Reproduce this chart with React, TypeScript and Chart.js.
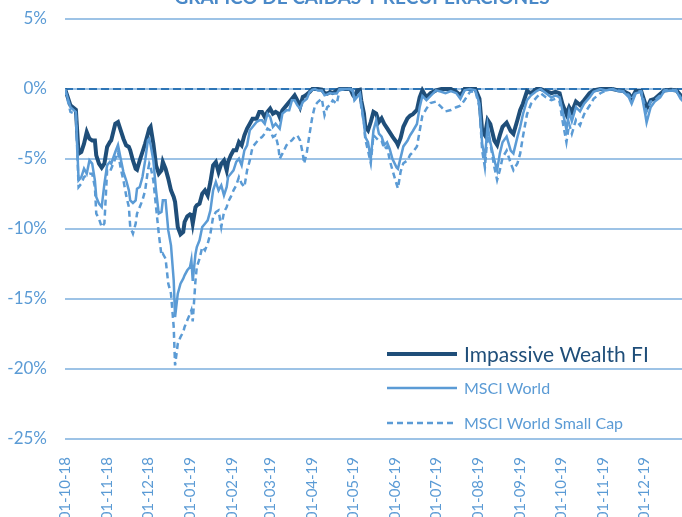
import { useEffect, useRef } from "react";
import { Chart, registerables } from "chart.js";

Chart.register(...registerables);

const chartTitle = "GRÁFICO DE CAÍDAS Y RECUPERACIONES";
const seriesNames = ["Impassive Wealth FI", "MSCI World", "MSCI World Small Cap"];
const axisStart = "2018-10-01";
const axisEnd = "2020-01-01";
const tickDates = [
  "2018-10-01", "2018-11-01", "2018-12-01", "2019-01-01", "2019-02-01",
  "2019-03-01", "2019-04-01", "2019-05-01", "2019-06-01", "2019-07-01",
  "2019-08-01", "2019-09-01", "2019-10-01", "2019-11-01", "2019-12-01",
];
const tickLabels = [
  "01-10-18", "01-11-18", "01-12-18", "01-01-19", "01-02-19",
  "01-03-19", "01-04-19", "01-05-19", "01-06-19", "01-07-19",
  "01-08-19", "01-09-19", "01-10-19", "01-11-19", "01-12-19",
];
const yMin = -25;
const yMax = 5;
const yStep = 5;

const dates = [
  // Oct 2018
  "2018-10-01", "2018-10-05", "2018-10-09", "2018-10-11", "2018-10-13", "2018-10-15", "2018-10-17", "2018-10-19",
  "2018-10-21", "2018-10-23", "2018-10-24", "2018-10-26", "2018-10-28", "2018-10-30",
  // Nov 2018
  "2018-11-01", "2018-11-03", "2018-11-04", "2018-11-07", "2018-11-09", "2018-11-11", "2018-11-13", "2018-11-15",
  "2018-11-17", "2018-11-18", "2018-11-20", "2018-11-22", "2018-11-23", "2018-11-25", "2018-11-27", "2018-11-29",
  // Dec 2018
  "2018-12-01", "2018-12-02", "2018-12-03", "2018-12-05", "2018-12-07", "2018-12-09", "2018-12-11", "2018-12-12",
  "2018-12-14", "2018-12-16", "2018-12-18", "2018-12-20", "2018-12-21", "2018-12-23", "2018-12-25", "2018-12-27",
  "2018-12-28", "2018-12-30",
  // Jan 2019
  "2019-01-01", "2019-01-02", "2019-01-03", "2019-01-05", "2019-01-06", "2019-01-08", "2019-01-10", "2019-01-12",
  "2019-01-14", "2019-01-16", "2019-01-18", "2019-01-20", "2019-01-22", "2019-01-24", "2019-01-26", "2019-01-28",
  "2019-01-29", "2019-01-31",
  // Feb 2019
  "2019-02-02", "2019-02-04", "2019-02-06", "2019-02-08", "2019-02-10", "2019-02-12", "2019-02-14", "2019-02-16",
  "2019-02-19", "2019-02-21", "2019-02-23", "2019-02-25", "2019-02-27",
  // Mar 2019
  "2019-03-01", "2019-03-03", "2019-03-05", "2019-03-07", "2019-03-08", "2019-03-10", "2019-03-13", "2019-03-15",
  "2019-03-17", "2019-03-19", "2019-03-21", "2019-03-23", "2019-03-25", "2019-03-26", "2019-03-28", "2019-03-30",
  // Apr 2019
  "2019-04-01", "2019-04-03", "2019-04-05", "2019-04-08", "2019-04-10", "2019-04-12", "2019-04-14", "2019-04-16",
  "2019-04-19", "2019-04-21", "2019-04-25", "2019-04-29",
  // May 2019
  "2019-05-01", "2019-05-02", "2019-05-04", "2019-05-06", "2019-05-07", "2019-05-09", "2019-05-10", "2019-05-12",
  "2019-05-14", "2019-05-16", "2019-05-18", "2019-05-20", "2019-05-22", "2019-05-24", "2019-05-26", "2019-05-28",
  "2019-05-30",
  // Jun 2019
  "2019-06-02", "2019-06-03", "2019-06-05", "2019-06-07", "2019-06-10", "2019-06-12", "2019-06-14", "2019-06-17",
  "2019-06-19", "2019-06-21", "2019-06-24", "2019-06-27",
  // Jul 2019
  "2019-07-01", "2019-07-05", "2019-07-08", "2019-07-12", "2019-07-16", "2019-07-19", "2019-07-22", "2019-07-26",
  "2019-07-30",
  // Aug 2019
  "2019-08-02", "2019-08-04", "2019-08-06", "2019-08-08", "2019-08-10", "2019-08-13", "2019-08-15", "2019-08-17",
  "2019-08-19", "2019-08-22", "2019-08-25", "2019-08-27", "2019-08-30",
  // Sep 2019
  "2019-09-01", "2019-09-03", "2019-09-06", "2019-09-09", "2019-09-13", "2019-09-16", "2019-09-20", "2019-09-24",
  "2019-09-27", "2019-09-30",
  // Oct 2019
  "2019-10-02", "2019-10-05", "2019-10-07", "2019-10-09", "2019-10-12", "2019-10-15", "2019-10-18", "2019-10-22",
  "2019-10-25", "2019-10-30",
  // Nov 2019
  "2019-11-03", "2019-11-08", "2019-11-12", "2019-11-16", "2019-11-20", "2019-11-22", "2019-11-25", "2019-11-29",
  // Dec 2019
  "2019-12-02", "2019-12-03", "2019-12-06", "2019-12-09", "2019-12-13", "2019-12-16", "2019-12-21", "2019-12-25",
  "2019-12-28", "2019-12-30",
];

const impassive = [
  // Oct 2018
  0, -1.17, -1.48, -4.62, -4.5, -3.9, -3.07, -3.55,
  -3.67, -3.67, -4.74, -5.33, -5.62, -5.33,
  // Nov 2018
  -4.14, -3.79, -3.67, -2.48, -2.36, -2.95, -3.55, -4.02,
  -4.14, -4.38, -5.1, -5.69, -5.76, -5.1, -4.5, -3.9,
  // Dec 2018
  -3.19, -2.83, -2.7, -3.9, -5.45, -6.05, -5.81, -5.21,
  -5.69, -6.4, -7.24, -7.71, -8.07, -9.86, -10.38, -10.21,
  -9.5, -9.1,
  // Jan 2019
  -8.95, -9.0, -9.6, -8.45, -8.31, -8.19, -7.48, -7.24,
  -7.6, -6.64, -5.45, -5.21, -5.93, -5.33, -5.1, -5.81,
  -5.21, -4.74,
  // Feb 2019
  -4.38, -4.38, -3.79, -4.02, -3.31, -2.83, -2.48, -2.12,
  -2.12, -1.64, -1.64, -2.0, -1.64,
  // Mar 2019
  -1.4, -1.76, -1.64, -1.76, -2.0, -1.52, -1.17, -0.93,
  -0.69, -0.45, -0.81, -1.29, -0.57, -0.52, -0.38, -0.21,
  // Apr 2019
  0, 0, 0, -0.05, -0.29, -0.33, -0.21, -0.29,
  -0.1, 0, 0, 0,
  // May 2019
  -0.45, -0.57, -0.1, -0.05, -0.81, -1.76, -2.71, -2.95,
  -2.36, -1.64, -1.76, -2.36, -2.1, -2.5, -2.8, -3.1,
  -3.4,
  // Jun 2019
  -3.8, -4.0, -3.5, -2.7, -2.1, -1.9, -1.8, -1.5,
  -0.6, -0.1, -0.6, -0.3,
  // Jul 2019
  -0.1, 0, 0, 0, -0.2, -0.45, 0, 0,
  0,
  // Aug 2019
  -0.7, -3.0, -3.3, -2.2, -2.5, -3.7, -4.0, -3.3,
  -2.7, -2.4, -3.0, -3.2, -2.2,
  // Sep 2019
  -1.5, -1.05, -0.15, -0.3, 0, 0, -0.15, -0.3,
  -0.2, -0.3,
  // Oct 2019
  -1.05, -1.8, -1.3, -1.65, -0.9, -1.15, -0.8, -0.3,
  -0.1, 0,
  // Nov 2019
  0, 0, -0.1, -0.15, -0.35, -0.7, -0.15, -0.15,
  // Dec 2019
  -1.05, -1.4, -0.8, -0.7, -0.35, -0.1, -0.05, -0.1,
  -0.45, -0.55,
];

const msciWorld = [
  // Oct 2018
  0, -1.29, -1.64, -6.52, -6.29, -5.69, -6.05, -5.1,
  -5.33, -6.52, -7.71, -8.19, -8.43, -6.76,
  // Nov 2018
  -5.45, -5.21, -5.33, -4.5, -4.0, -4.98, -5.93, -6.52,
  -7.24, -7.95, -8.14, -7.95, -7.12, -7.0, -6.29, -5.1,
  // Dec 2018
  -3.67, -3.55, -4.0, -5.1, -7.24, -8.9, -8.79, -7.95,
  -7.95, -10.1, -11.17, -13.67, -16.29, -14.62, -13.9, -13.55,
  -13.31, -12.95,
  // Jan 2019
  -12.71, -12.2, -13.7, -11.8, -11.29, -10.81, -9.86, -9.62,
  -9.38, -8.67, -7.24, -6.64, -7.24, -6.88, -7.6, -7.0,
  -6.29, -6.05,
  // Feb 2019
  -5.81, -5.21, -4.98, -5.45, -4.38, -4.02, -2.95, -2.71,
  -2.36, -2.24, -2.24, -2.48, -1.76,
  // Mar 2019
  -2.0, -2.71, -2.48, -2.71, -2.83, -1.76, -1.52, -1.52,
  -0.81, -0.81, -1.17, -1.4, -0.93, -0.86, -0.69, -0.21,
  // Apr 2019
  -0.05, 0, -0.1, -0.1, -0.45, -0.38, -0.29, -0.33,
  -0.33, 0, 0, 0,
  // May 2019
  -0.21, -0.81, -0.57, -0.33, -1.05, -2.36, -3.43, -3.79,
  -4.98, -2.95, -2.24, -3.19, -3.4, -4.0, -3.8, -4.3,
  -5.0,
  // Jun 2019
  -5.6, -5.7, -4.9, -4.1, -3.7, -3.3, -3.0, -2.5,
  -1.3, -0.5, -0.8, -0.5,
  // Jul 2019
  -0.1, -0.2, -0.3, -0.15, -0.3, -0.7, -0.1, 0,
  -0.1,
  // Aug 2019
  -1.05, -3.9, -5.0, -2.6, -3.8, -5.1, -5.8, -4.6,
  -3.8, -3.4, -4.4, -4.6, -3.4,
  // Sep 2019
  -2.7, -1.8, -0.8, -0.45, -0.15, 0, -0.3, -0.6,
  -0.45, -0.6,
  // Oct 2019
  -1.5, -2.9, -1.6, -2.3, -1.3, -1.6, -1.05, -0.6,
  -0.2, 0,
  // Nov 2019
  -0.1, 0, -0.15, -0.2, -0.6, -1.05, -0.3, -0.2,
  // Dec 2019
  -1.8, -2.4, -1.3, -0.9, -0.6, -0.15, -0.1, -0.15,
  -0.7, -0.9,
];

const msciSmallCap = [
  // Oct 2018
  0, -1.64, -1.8, -7.0, -6.76, -6.29, -6.17, -6.05,
  -6.05, -7.0, -8.9, -9.26, -9.86, -9.6,
  // Nov 2018
  -5.81, -5.93, -5.69, -4.98, -4.5, -5.69, -6.52, -7.6,
  -8.43, -9.86, -10.33, -9.62, -8.9, -8.43, -7.95, -7.24,
  // Dec 2018
  -5.81, -5.33, -5.57, -6.52, -8.43, -10.33, -11.88, -11.76,
  -12.12, -13.9, -14.62, -17.0, -19.74, -18.19, -17.71, -17.36,
  -17.0, -16.52,
  // Jan 2019
  -16.05, -15.8, -16.6, -13.7, -12.71, -12.12, -11.29, -11.52,
  -11.05, -10.33, -9.14, -8.79, -8.67, -9.86, -8.79, -8.43,
  -8.07, -7.71,
  // Feb 2019
  -7.24, -6.88, -6.29, -6.76, -7.0, -5.81, -5.1, -4.14,
  -3.79, -3.55, -3.43, -3.19, -2.83,
  // Mar 2019
  -2.95, -3.43, -3.31, -4.14, -4.98, -4.62, -4.02, -3.79,
  -3.67, -3.43, -3.31, -3.67, -4.62, -5.33, -4.5, -3.19,
  // Apr 2019
  -2.0, -1.17, -0.93, -0.69, -1.88, -1.29, -1.17, -0.81,
  -1.05, -0.1, 0, 0,
  // May 2019
  -0.1, -0.69, -0.57, -0.33, -1.29, -2.48, -3.6, -4.4,
  -5.3, -3.3, -3.5, -3.7, -3.7, -4.3, -4.1, -5.1,
  -5.8,
  // Jun 2019
  -6.8, -7.1, -5.9, -5.3, -5.1, -4.7, -4.5, -4.1,
  -3.0, -1.9, -1.4, -1.0,
  // Jul 2019
  -0.9, -1.3, -1.6, -1.5, -1.3, -1.2, -0.8, -0.2,
  -0.15,
  // Aug 2019
  -1.3, -4.4, -5.6, -3.3, -3.9, -5.6, -6.5, -5.8,
  -4.9, -4.4, -5.3, -5.8, -5.3,
  // Sep 2019
  -4.6, -3.4, -1.8, -1.05, -0.6, -0.3, -0.6, -0.8,
  -0.7, -0.9,
  // Oct 2019
  -2.2, -3.8, -2.5, -3.2, -2.2, -2.6, -1.8, -1.2,
  -0.7, -0.3,
  // Nov 2019
  -0.1, 0, -0.1, -0.15, -0.45, -0.8, -0.2, -0.15,
  // Dec 2019
  -1.3, -1.6, -0.9, -0.8, -0.45, -0.1, -0.05, -0.1,
  -0.6, -0.75,
];

const colors = {
  navy: "#1F4E79",
  blue: "#5B9BD5",
  zero: "#2E75B6",
  grid: "#9DC3E6",
  tick: "#5B9BD5",
};
const FONT = "Lato, 'Open Sans', sans-serif";

function dayOf(s: string): number {
  const [y, m, d] = s.split("-").map(Number);
  const [y0, m0, d0] = axisStart.split("-").map(Number);
  return (Date.UTC(y, m - 1, d) - Date.UTC(y0, m0 - 1, d0)) / 86400000;
}

function toPoints(values: number[]) {
  return values.map((v, i) => ({ x: dayOf(dates[i]), y: v }));
}

const decorPlugin = {
  id: "decor",
  afterDraw(chart: any) {
    const ctx = chart.ctx as CanvasRenderingContext2D;
    ctx.save();
    // Title (cropped at top in the reference)
    ctx.font = `bold 19px ${FONT}`;
    ctx.fillStyle = "#4A89C8";
    ctx.textAlign = "center";
    ctx.textBaseline = "alphabetic";
    ctx.fillText(chartTitle, 362, 4);

    // Legend
    const entries = [
      { name: seriesNames[0], color: colors.navy, width: 4, dash: [] as number[], font: `21px ${FONT}`, y: 354 },
      { name: seriesNames[1], color: colors.blue, width: 2.5, dash: [] as number[], font: `16px ${FONT}`, y: 388 },
      { name: seriesNames[2], color: colors.blue, width: 2.5, dash: [6, 4], font: `16px ${FONT}`, y: 423 },
    ];
    ctx.textAlign = "left";
    ctx.textBaseline = "middle";
    for (const e of entries) {
      ctx.beginPath();
      ctx.setLineDash(e.dash);
      ctx.strokeStyle = e.color;
      ctx.lineWidth = e.width;
      ctx.moveTo(387, e.y);
      ctx.lineTo(457, e.y);
      ctx.stroke();
      ctx.setLineDash([]);
      ctx.font = e.font;
      ctx.fillStyle = e.color;
      ctx.fillText(e.name, 464, e.y + 1);
    }
    ctx.restore();
  },
};

export default function App() {
  const ref = useRef<HTMLCanvasElement | null>(null);

  useEffect(() => {
    if (!ref.current) return;
    const xMax = dayOf(axisEnd);
    const chart = new Chart(ref.current, {
      type: "line",
      data: {
        datasets: [
          {
            label: seriesNames[0],
            data: toPoints(impassive),
            borderColor: colors.navy,
            borderWidth: 4,
            pointRadius: 0,
            tension: 0,
            order: 3,
          },
          {
            label: seriesNames[1],
            data: toPoints(msciWorld),
            borderColor: colors.blue,
            borderWidth: 2.5,
            pointRadius: 0,
            tension: 0,
            order: 1,
          },
          {
            label: seriesNames[2],
            data: toPoints(msciSmallCap),
            borderColor: colors.blue,
            borderWidth: 2.5,
            borderDash: [6, 4],
            pointRadius: 0,
            tension: 0,
            order: 2,
          },
          {
            label: "0%",
            data: [
              { x: 0, y: 0 },
              { x: xMax, y: 0 },
            ],
            borderColor: colors.zero,
            borderWidth: 2,
            borderDash: [8, 4],
            pointRadius: 0,
            order: 4,
          },
        ],
      },
      options: {
        responsive: false,
        animation: false,
        devicePixelRatio: 1,
        layout: { padding: { top: 19, right: 14, left: 0, bottom: 0 } },
        plugins: {
          legend: { display: false },
          title: { display: false },
          tooltip: { enabled: false },
        },
        scales: {
          x: {
            type: "linear",
            min: 0,
            max: xMax,
            grid: { display: false },
            border: { display: false },
            afterBuildTicks: (scale: any) => {
              scale.ticks = tickDates.map((d) => ({ value: dayOf(d) }));
            },
            afterFit: (scale: any) => {
              scale.height = 132;
              scale.paddingLeft = 0;
              scale.paddingRight = 0;
            },
            ticks: {
              autoSkip: false,
              maxRotation: 90,
              minRotation: 90,
              padding: 10,
              color: colors.tick,
              font: { family: FONT, size: 15 },
              callback: (_v: any, i: number) => tickLabels[i],
            },
          },
          y: {
            min: yMin,
            max: yMax,
            grid: { color: colors.grid, lineWidth: 2, drawTicks: false },
            border: { display: false },
            afterFit: (scale: any) => {
              scale.width = 65;
              scale.paddingTop = 0;
              scale.paddingBottom = 0;
            },
            ticks: {
              stepSize: yStep,
              padding: 18,
              color: colors.tick,
              font: { family: FONT, size: 17 },
              callback: (v: any) => `${v}%`,
            },
          },
        },
      },
      plugins: [decorPlugin],
    });
    return () => chart.destroy();
  }, []);

  return (
    <div
      style={{
        position: "fixed",
        left: 0,
        top: 0,
        width: 682,
        height: 517,
        overflow: "hidden",
        background: "#ffffff",
      }}
    >
      <canvas
        ref={ref}
        width={700}
        height={571}
        style={{ position: "absolute", left: 0, top: 0, width: 700, height: 571 }}
      />
    </div>
  );
}
